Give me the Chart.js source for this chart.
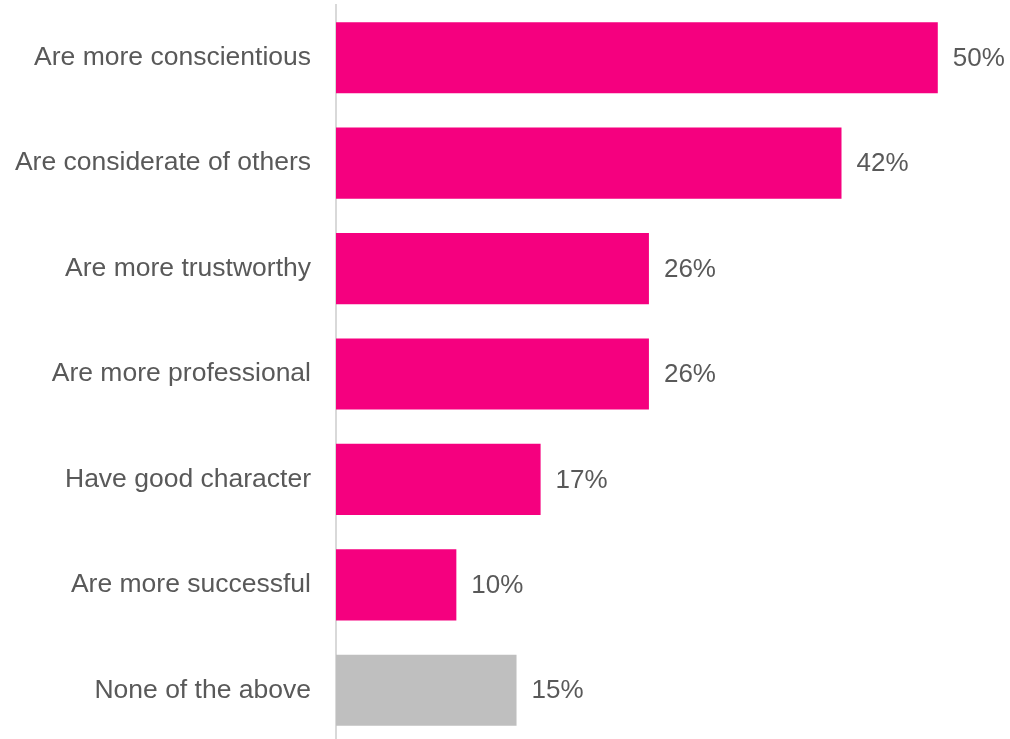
<!DOCTYPE html>
<html>
<head>
<meta charset="utf-8">
<script src="https://cdn.jsdelivr.net/npm/chart.js@4.4.1/dist/chart.umd.min.js"></script>
<style>
  html, body { margin: 0; padding: 0; background: #fff; overflow: hidden; }
  #wrap { width: 1010px; height: 743px; }
</style>
</head>
<body>
<div id="wrap"><canvas id="plotCanvas"></canvas></div>
<script>
// Ответы и доли, %
let labels = [
  "Are more conscientious",
  "Are considerate of others",
  "Are more trustworthy",
  "Are more professional",
  "Have good character",
  "Are more successful",
  "None of the above"
];
let values = [50, 42, 26, 26, 17, 10, 15];
let colors = ["#F5007F", "#F5007F", "#F5007F", "#F5007F", "#F5007F", "#F5007F", "#BFBFBF"];

const textColor = "#595959";
const fontFamily = "'Liberation Sans', Arial, sans-serif";

// подписи значений справа от столбцов
const valueLabels = {
  id: "valueLabels",
  afterDatasetsDraw(chart) {
    const ctx = chart.ctx;
    const meta = chart.getDatasetMeta(0);
    ctx.save();
    ctx.font = "26px " + fontFamily;
    ctx.fillStyle = textColor;
    ctx.textAlign = "left";
    ctx.textBaseline = "middle";
    meta.data.forEach((bar, i) => {
      ctx.fillText(values[i] + "%", bar.x + 15, bar.y + 1);
    });
    ctx.restore();
  }
};

function drawPlot() {
  const ctx = document.getElementById("plotCanvas").getContext("2d");
  new Chart(ctx, {
    type: "bar",
    data: {
      labels: labels,
      datasets: [{
        data: values,
        backgroundColor: colors,
        borderWidth: 0,
        barPercentage: 0.675,
        categoryPercentage: 1
      }]
    },
    options: {
      indexAxis: "y",
      responsive: true,
      maintainAspectRatio: false,
      animation: false,
      layout: { padding: { top: 5, right: 0, bottom: 0, left: 0 } },
      plugins: {
        legend: { display: false },
        tooltip: { enabled: false }
      },
      scales: {
        x: {
          display: false,
          min: 0,
          max: 56
        },
        y: {
          afterFit(scale) {
            scale.width = 336;
            scale.paddingTop = 0;
            scale.paddingBottom = 0;
          },
          grid: { display: false, drawTicks: false },
          border: { display: true, color: "#D9D9D9", width: 2 },
          ticks: {
            color: textColor,
            font: { size: 26.5, family: fontFamily },
            padding: 25
          }
        }
      }
    },
    plugins: [valueLabels]
  });
}

drawPlot();
</script>
</body>
</html>
